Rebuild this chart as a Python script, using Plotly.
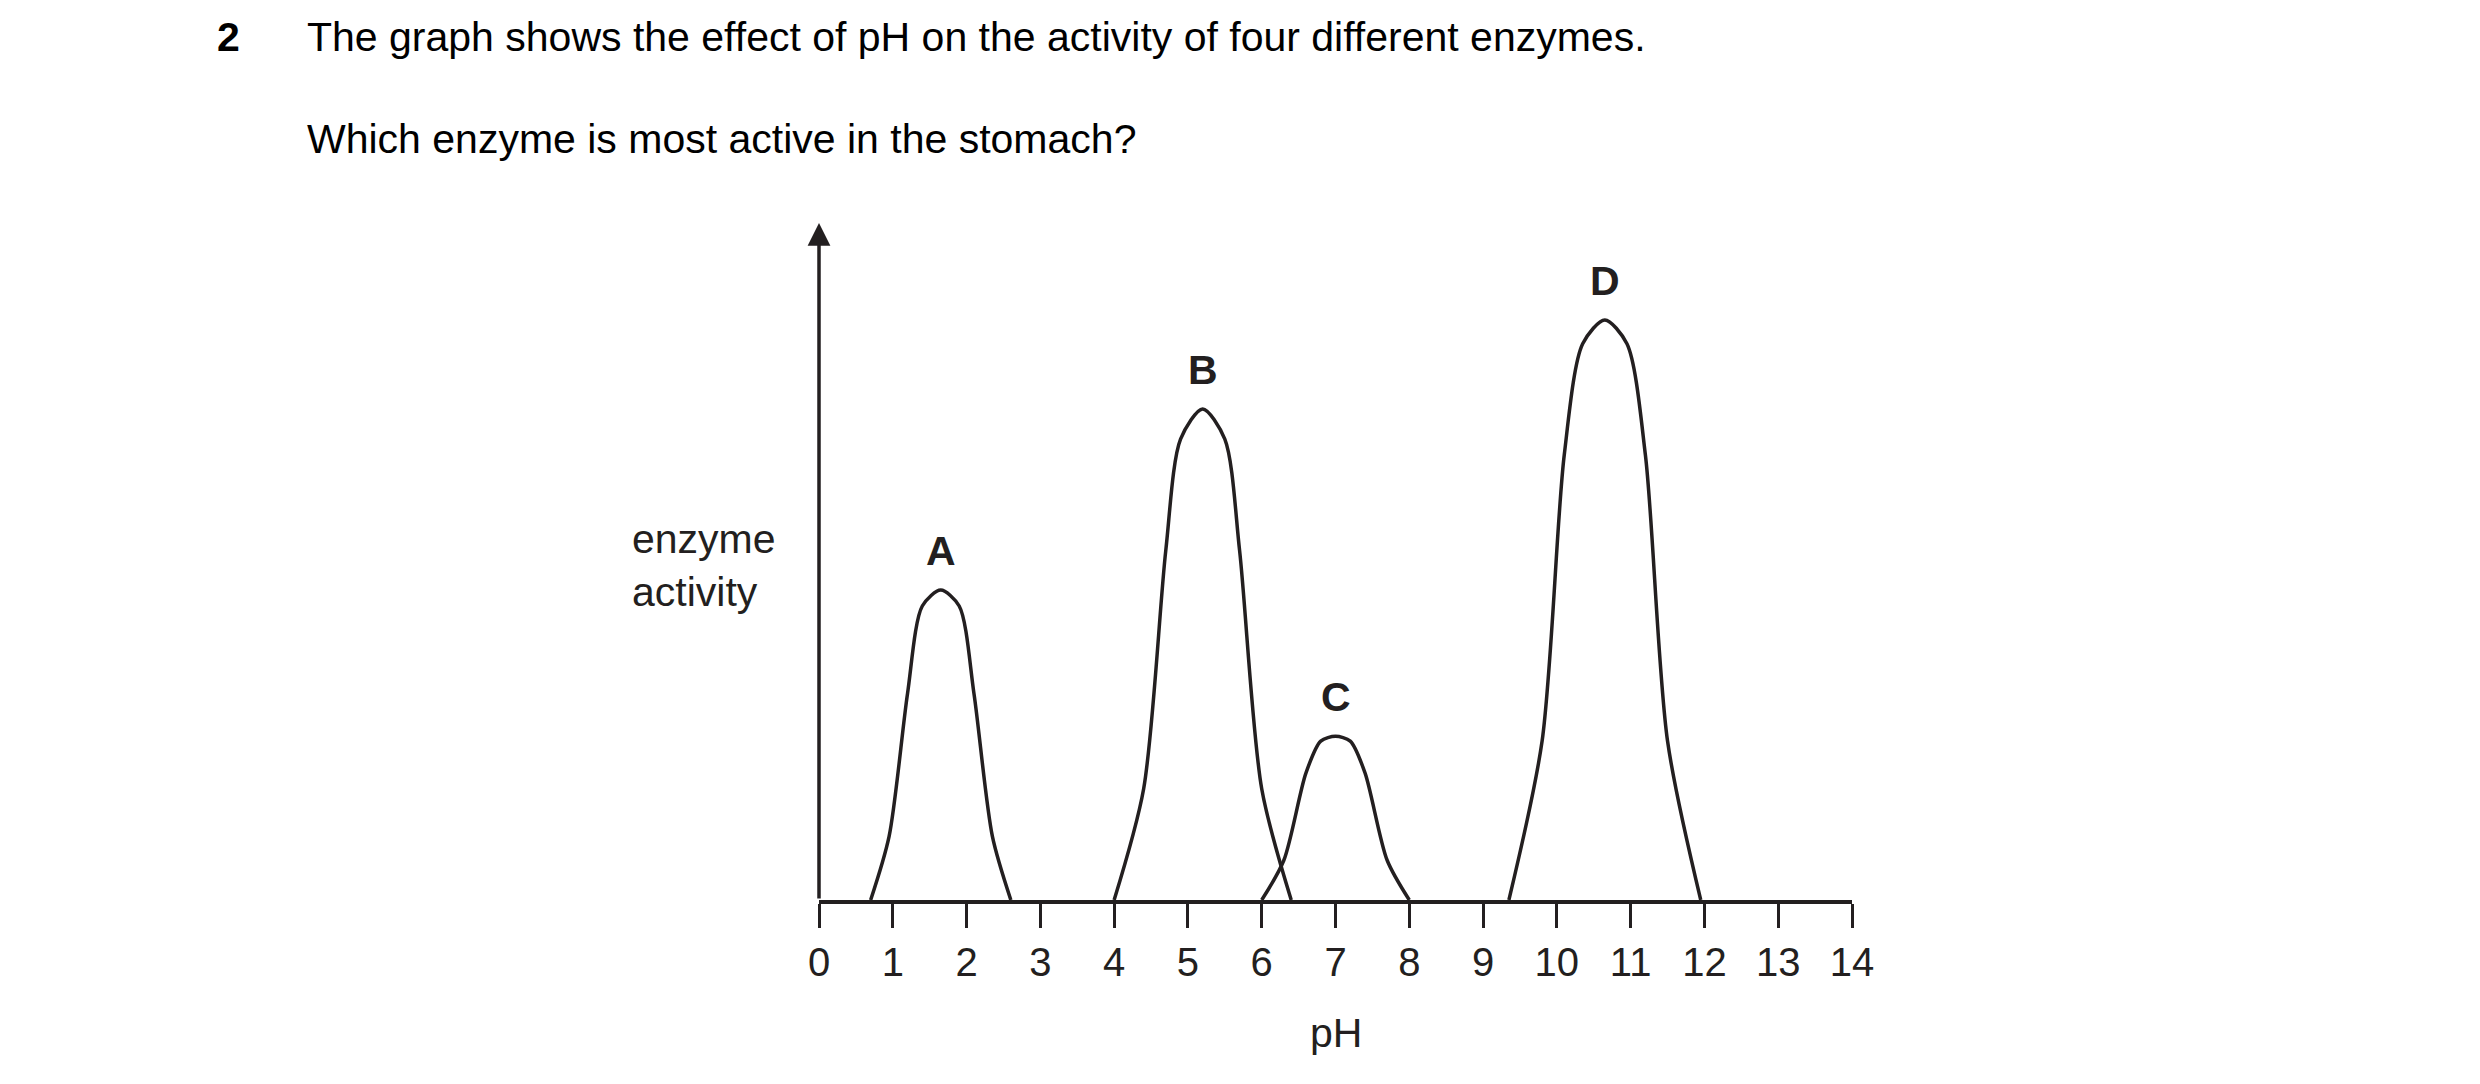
import plotly.graph_objects as go

# Curves (pH, relative activity)
a_ph = [0.7, 0.95, 1.2, 1.4, 1.65, 1.9, 2.1, 2.35, 2.6]
a_act = [0, 40, 130, 185, 195, 185, 130, 40, 0]
b_ph = [4.0, 4.4, 4.7, 4.9, 5.2, 5.5, 5.7, 6.0, 6.4]
b_act = [0, 70, 220, 290, 309, 290, 220, 70, 0]
c_ph = [6.0, 6.3, 6.6, 6.8, 7.0, 7.2, 7.4, 7.7, 8.0]
c_act = [0, 25, 80, 100, 103, 100, 80, 25, 0]
d_ph = [9.35, 9.8, 10.1, 10.35, 10.65, 10.95, 11.2, 11.5, 11.95]
d_act = [0, 100, 280, 350, 365, 350, 280, 100, 0]
labels = ["A", "B", "C", "D"]
ticks = list(range(0, 15))

ink = "#231f20"
font = "Liberation Sans, Arial, sans-serif"
W, H = 2480, 1084
L, R, T, B = 811, 1844, 215, 892


def pos(px, py):
    # page pixel -> plot-area paper fraction
    return (px - L) / (R - L), (B - py) / (B - T)


fig = go.Figure()
curves = [(a_ph, a_act), (b_ph, b_act), (c_ph, c_act), (d_ph, d_act)]
for (x, y), name in zip(curves, labels):
    fig.add_trace(go.Scatter(x=x, y=y, mode="lines", line=dict(color=ink, width=3.5, shape="spline", smoothing=0.8),
                             showlegend=False, hoverinfo="skip"))
    top = max(y)
    fig.add_annotation(x=x[y.index(top)], y=top, text="<b>%s</b>" % name, showarrow=False,
                       yanchor="bottom", yshift=14, font=dict(size=41, color=ink, family=font))

fig.update_xaxes(range=[0, 14], tickvals=ticks, ticks="outside", ticklen=24, tickwidth=3, tickcolor=ink,
                 showline=True, linecolor=ink, linewidth=4, showgrid=False, zeroline=False,
                 tickfont=dict(size=40, color=ink, family=font))
fig.update_yaxes(range=[0, 426], showticklabels=False, showline=False, showgrid=False, zeroline=False)

# vertical axis with arrow head
fig.add_annotation(x=0, y=426, ax=0, ay=0, xref="x", yref="y", axref="x", ayref="y", text="",
                   showarrow=True, arrowhead=2, arrowsize=1.3, arrowwidth=3.5, arrowcolor=ink)

texts = [("enzyme<br>activity", 622, 557, ink, "left"),
         ("pH", 1328, 1025, ink, "center"),
         ("<b>2</b>", 207, 29, "#000", "left"),
         ("The graph shows the effect of pH on the activity of four different enzymes.", 297, 29, "#000", "left"),
         ("Which enzyme is most active in the stomach?", 297, 131, "#000", "left")]
for txt, px, py, col, anc in texts:
    fx, fy = pos(px, py)
    fig.add_annotation(x=fx, y=fy, xref="paper", yref="paper", text=txt, showarrow=False, align="left",
                       xanchor=anc, yanchor="middle", font=dict(size=41, color=col, family=font))

fig.update_layout(width=W, height=H, plot_bgcolor="white", paper_bgcolor="white",
                  margin=dict(l=L, r=W - R, t=T, b=H - B))
fig.write_html("out.html")
